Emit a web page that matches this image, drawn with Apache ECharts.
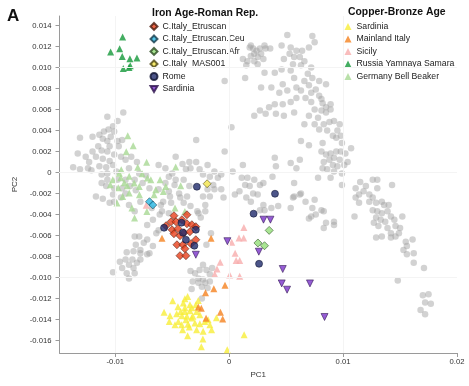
<!DOCTYPE html>
<html><head><meta charset="utf-8">
<script src="https://cdn.jsdelivr.net/npm/echarts@6/dist/echarts.min.js"></script>
<style>html,body{margin:0;padding:0;background:#fff}#c{width:469px;height:386px}</style>
</head><body><div id="c"></div>
<script>
// ---- axis ticks ----
const xTicks = [-0.01, 0, 0.01, 0.02];
const yTicks = [-0.016,-0.014,-0.012,-0.010,-0.008,-0.006,-0.004,-0.002,0,0.002,0.004,0.006,0.008,0.010,0.012,0.014];
const xGrid = [-0.01,-0.005,0,0.005,0.01,0.015];
const yGrid = yTicks;

// ---- background (gray) samples ----
const grayWest = [[-0.0107,0.0053],[-0.0093,0.0057],[-0.0098,0.0049],[-0.0102,0.0044],[-0.0106,0.0041],[-0.0101,0.0039],[-0.0110,0.0039],[-0.0114,0.0036],[-0.0104,0.0034],[-0.0120,0.0034],[-0.0111,0.0032],[-0.0131,0.0033],[-0.0107,0.0030],[-0.0098,0.0030],[-0.0094,0.0031],[-0.0115,0.0025],[-0.0105,0.0025],[-0.0097,0.0025],[-0.0112,0.0021],[-0.0120,0.0020],[-0.0107,0.0020],[-0.0101,0.0017],[-0.0133,0.0018],[-0.0126,0.0015],[-0.0117,0.0015],[-0.0111,0.0013],[-0.0105,0.0011],[-0.0095,0.0015],[-0.0091,0.0012],[-0.0123,0.0010],[-0.0137,0.0005],[-0.0131,0.0003],[-0.0124,0.0004],[-0.0114,0.0006],[-0.0108,0.0005],[-0.0102,0.0007],[-0.0121,0.0002],[-0.0112,-0.0002],[-0.0107,-0.0001],[-0.0099,0.0001],[-0.0088,0.0004],[-0.0081,0.0010],[-0.0086,0.0015],[-0.0083,-0.0007],[-0.0079,-0.0001],[-0.0073,-0.0003],[-0.0091,-0.0007],[-0.0098,-0.0007],[-0.0107,-0.0007],[-0.0112,-0.0010],[-0.0108,-0.0013],[-0.0101,-0.0015],[-0.0094,-0.0015],[-0.0087,-0.0013],[-0.0076,-0.0010],[-0.0070,-0.0015],[-0.0082,-0.0017],[-0.0091,-0.0020],[-0.0102,-0.0021],[-0.0117,-0.0023],[-0.0111,-0.0025],[-0.0095,-0.0024],[-0.0062,0.0007],[-0.0056,0.0004],[-0.0050,-0.0001],[-0.0047,-0.0007],[-0.0053,-0.0004],[-0.0056,-0.0010],[-0.0048,-0.0012],[-0.0040,-0.0007],[-0.0035,0.0010],[-0.0034,0.0004],[-0.0041,0.0008],[-0.0047,0.0015],[-0.0029,0.0031],[-0.0062,-0.0016],[-0.0053,-0.0018],[-0.0044,-0.0020],[-0.0035,-0.0013],[-0.0038,0.0003]];
const grayBridge = [[-0.0105,-0.0029],[-0.0101,-0.0028],[-0.0088,-0.0031],[-0.0078,-0.0028],[-0.0083,-0.0037],[-0.0060,-0.0031],[-0.0059,-0.0037],[-0.0051,-0.0029],[-0.0040,-0.0029],[-0.0034,-0.0032],[-0.0028,-0.0037],[-0.0025,-0.0043],[-0.0021,-0.0031],[-0.0067,-0.0045],[-0.0068,-0.0034],[-0.0053,-0.0039],[-0.0061,-0.0040],[-0.0058,-0.0028],[-0.0052,-0.0023],[-0.0043,-0.0024],[-0.0037,-0.0023],[-0.0072,-0.0050]];
const graySouthWest = [[-0.0090,-0.0076],[-0.0084,-0.0075],[-0.0078,-0.0077],[-0.0072,-0.0078],[-0.0091,-0.0083],[-0.0085,-0.0083],[-0.0081,-0.0086],[-0.0088,-0.0088],[-0.0084,-0.0091],[-0.0088,-0.0101],[-0.0090,-0.0096],[-0.0083,-0.0096],[-0.0102,-0.0095],[-0.0094,-0.0091],[-0.0078,-0.0083],[-0.0096,-0.0085],[-0.0075,-0.0067],[-0.0082,-0.0069],[-0.0078,-0.0074],[-0.0070,-0.0077],[-0.0067,-0.0070],[-0.0079,-0.0061],[-0.0072,-0.0064],[-0.0064,-0.0058],[-0.0062,-0.0055],[-0.0083,-0.0061]];
const graySouth = [[-0.0034,-0.0094],[-0.0030,-0.0096],[-0.0026,-0.0093],[-0.0023,-0.0088],[-0.0020,-0.0093],[-0.0017,-0.0097],[-0.0027,-0.0101],[-0.0023,-0.0102],[-0.0032,-0.0104],[-0.0027,-0.0105],[-0.0021,-0.0105],[-0.0017,-0.0104],[-0.0024,-0.0109],[-0.0019,-0.0110],[-0.0024,-0.0120],[-0.0033,-0.0111],[-0.0015,-0.0091]];
const grayCentral = [[-0.0029,0.0010],[-0.0026,0.0003],[-0.0019,0.0007],[-0.0013,0.0001],[-0.0023,-0.0002],[-0.0017,-0.0004],[-0.0010,-0.0005],[-0.0007,-0.0002],[-0.0014,-0.0012],[-0.0019,-0.0016],[-0.0013,-0.0016],[-0.0007,-0.0016],[-0.0023,-0.0023],[-0.0017,-0.0023],[-0.0005,-0.0024],[-0.0027,-0.0039],[-0.0021,-0.0037],[-0.0016,-0.0058],[-0.0020,-0.0069],[-0.0004,0.0020],[0.0012,0.0007],[0.0003,0.0001],[0.0011,-0.0005],[0.0016,-0.0005],[0.0022,-0.0007],[0.0014,-0.0012],[0.0018,-0.0013],[0.0027,-0.0012],[0.0009,-0.0018],[0.0021,-0.0020],[0.0025,-0.0021],[0.0005,-0.0021],[0.0015,-0.0024],[0.0030,-0.0031],[0.0027,-0.0036],[0.0031,-0.0036],[0.0019,-0.0028],[0.0040,0.0014],[0.0041,0.0006],[0.0038,-0.0004],[0.0030,-0.0010],[0.0054,0.0009],[0.0062,0.0012],[0.0059,0.0004],[0.0057,-0.0010],[0.0043,-0.0032],[0.0037,-0.0034],[0.0054,-0.0034],[0.0057,-0.0023],[0.0063,-0.0020],[0.0067,-0.0028],[0.0075,-0.0026],[0.0073,-0.0034],[0.0076,-0.0040],[0.0072,-0.0042],[0.0070,-0.0044],[0.0070,0.0026],[0.0063,0.0030],[0.0078,-0.0005],[0.0056,-0.0024],[0.0062,-0.0021]];
const grayNorth = [[0.0018,0.0119],[0.0021,0.0118],[0.0024,0.0116],[0.0027,0.0118],[0.0022,0.0113],[0.0019,0.0111],[0.0025,0.0110],[0.0028,0.0113],[0.0030,0.0108],[0.0022,0.0106],[0.0016,0.0106],[0.0012,0.0108],[0.0015,0.0102],[0.0025,0.0103],[0.0032,0.0118],[0.0036,0.0118],[0.0031,0.0121],[0.0019,0.0121],[0.0051,0.0131],[0.0073,0.0130],[0.0075,0.0124],[0.0046,0.0121],[0.0054,0.0119],[0.0059,0.0116],[0.0064,0.0116],[0.0070,0.0119],[0.0053,0.0113],[0.0048,0.0108],[0.0057,0.0110],[0.0062,0.0110],[0.0066,0.0106],[0.0056,0.0103],[0.0063,0.0102],[0.0072,0.0100],[0.0046,0.0098],[0.0040,0.0095],[0.0031,0.0095],[0.0014,0.0090],[-0.0004,0.0087],[0.0054,0.0097],[0.0069,0.0094],[0.0073,0.0090],[0.0079,0.0087],[0.0085,0.0084],[0.0066,0.0087],[0.0057,0.0090],[0.0047,0.0084],[0.0028,0.0081],[0.0037,0.0081],[0.0044,0.0076],[0.0051,0.0078],[0.0059,0.0081],[0.0063,0.0078],[0.0070,0.0083],[0.0076,0.0079],[0.0079,0.0073],[0.0067,0.0071],[0.0059,0.0071],[0.0054,0.0067],[0.0047,0.0065],[0.0040,0.0065],[0.0035,0.0062],[0.0027,0.0059],[0.0032,0.0056],[0.0022,0.0054],[0.0041,0.0056],[0.0048,0.0054],[0.0057,0.0057],[0.0072,0.0067],[0.0075,0.0060],[0.0081,0.0059],[0.0085,0.0062],[0.0089,0.0065],[0.0078,0.0052],[0.0070,0.0054],[0.0066,0.0046],[0.0075,0.0046],[0.0083,0.0046],[0.0088,0.0048],[0.0092,0.0049],[0.0097,0.0046],[0.0095,0.0040],[0.0086,0.0040],[0.0079,0.0041],[0.0091,0.0035],[0.0098,0.0035],[0.0002,0.0043],[0.0072,0.0076],[0.0081,0.0070]];
const grayEast = [[0.0082,0.0066],[0.0085,0.0057],[0.0089,0.0060],[0.0094,0.0033],[0.0099,0.0028],[0.0082,0.0028],[0.0107,0.0023],[0.0081,0.0020],[0.0085,0.0017],[0.0089,0.0018],[0.0094,0.0020],[0.0098,0.0020],[0.0102,0.0018],[0.0088,0.0012],[0.0092,0.0014],[0.0097,0.0012],[0.0083,0.0010],[0.0091,0.0007],[0.0095,0.0006],[0.0101,0.0007],[0.0104,0.0010],[0.0082,0.0004],[0.0086,0.0003],[0.0092,0.0001],[0.0099,-0.0001],[0.0089,-0.0005],[0.0099,-0.0012],[0.0115,-0.0009],[0.0111,-0.0015],[0.0120,-0.0013],[0.0126,-0.0007],[0.0130,-0.0007],[0.0130,-0.0015],[0.0143,-0.0012],[0.0114,-0.0021],[0.0118,-0.0018],[0.0123,-0.0021],[0.0126,-0.0024],[0.0111,-0.0024],[0.0134,-0.0028],[0.0129,-0.0029],[0.0140,-0.0031]];
const grayArc = [[0.0114,-0.0029],[0.0123,-0.0028],[0.0136,-0.0031],[0.0126,-0.0036],[0.0130,-0.0037],[0.0134,-0.0039],[0.0139,-0.0037],[0.0142,-0.0042],[0.0129,-0.0043],[0.0133,-0.0045],[0.0137,-0.0047],[0.0145,-0.0045],[0.0152,-0.0042],[0.0127,-0.0048],[0.0131,-0.0051],[0.0139,-0.0053],[0.0146,-0.0051],[0.0150,-0.0053],[0.0142,-0.0058],[0.0146,-0.0061],[0.0129,-0.0062],[0.0134,-0.0061],[0.0142,-0.0062],[0.0149,-0.0058],[0.0155,-0.0066],[0.0161,-0.0064],[0.0156,-0.0070],[0.0153,-0.0074],[0.0162,-0.0077],[0.0156,-0.0078],[0.0162,-0.0086],[0.0171,-0.0091],[0.0110,-0.0042],[0.0092,-0.0047],[0.0092,-0.0050],[0.0085,-0.0048],[0.0083,-0.0053],[0.0083,-0.0037],[0.0081,-0.0036],[0.0148,-0.0103],[0.0170,-0.0117],[0.0175,-0.0116],[0.0172,-0.0124],[0.0177,-0.0125],[0.0168,-0.0131],[0.0172,-0.0135]];

// ---- Iron Age - Roman Republic ----
const etruscan = [[-0.00485,-0.00412],[-0.00371,-0.00403],[-0.00555,-0.00508],[-0.00511,-0.00470],[-0.00467,-0.00470],[-0.00415,-0.00450],[-0.00371,-0.00489],[-0.00328,-0.00498],[-0.00293,-0.00517],[-0.00502,-0.00546],[-0.00450,-0.00536],[-0.00397,-0.00574],[-0.00485,-0.00584],[-0.00432,-0.00603],[-0.00345,-0.00565],[-0.00459,-0.00689],[-0.00406,-0.00689],[-0.00389,-0.00727],[-0.00336,-0.00679],[-0.00293,-0.00641],[-0.00432,-0.00793],[-0.00380,-0.00793]];
const etruscanCeu = [[-0.00700,-0.00279],[-0.00671,-0.00310]];
const etruscanAfr = [[0.00351,-0.00552],[0.00252,-0.00672],[0.00310,-0.00698]];
const mas001 = [[-0.00194,-0.00108]];
const rome = [[-0.00284,-0.00136],[-0.00572,-0.00527],[-0.00419,-0.00479],[-0.00293,-0.00546],[-0.00406,-0.00574],[-0.00380,-0.00641],[-0.00306,-0.00698],[0.00214,-0.00393],[0.00402,-0.00203],[0.00262,-0.00870]];
const sardiniaIA = [[0.00301,-0.00450],[0.00362,-0.00450],[-0.00016,-0.00655],[0.00260,-0.00755],[-0.00293,-0.00784],[0.00470,-0.00920],[0.00461,-0.01057],[0.00508,-0.01117],[0.00709,-0.01057],[0.00837,-0.01377]];

// ---- Copper-Bronze Age ----
const sardiniaCB = [[-0.00496,-0.01222],[-0.00572,-0.01333],[-0.00526,-0.01419],[-0.00365,-0.01181],[-0.00389,-0.01203],[-0.00403,-0.01244],[-0.00345,-0.01260],[-0.00272,-0.01219],[-0.00450,-0.01279],[-0.00426,-0.01324],[-0.00389,-0.01324],[-0.00345,-0.01317],[-0.00286,-0.01324],[-0.00461,-0.01346],[-0.00415,-0.01365],[-0.00371,-0.01370],[-0.00319,-0.01371],[-0.00258,-0.01355],[-0.00447,-0.01419],[-0.00380,-0.01403],[-0.00330,-0.01387],[-0.00301,-0.01434],[-0.00258,-0.01441],[-0.00214,-0.01419],[-0.00185,-0.01403],[-0.00112,-0.01384],[-0.00476,-0.01450],[-0.00417,-0.01450],[-0.00362,-0.01446],[-0.00409,-0.01498],[-0.00351,-0.01472],[-0.00286,-0.01498],[-0.00229,-0.01514],[-0.00155,-0.01498],[-0.00365,-0.01555],[-0.00231,-0.01587],[-0.00245,-0.01660],[-0.00017,-0.01689],[0.00131,-0.01546],[-0.00389,-0.01289],[-0.00328,-0.01289],[-0.00520,-0.01365],[-0.00293,-0.01260],[-0.00170,-0.01450]];
const mainlandItaly = [[-0.00590,-0.00627],[-0.00159,-0.00627],[-0.00208,-0.01146],[-0.00135,-0.01108],[-0.00037,-0.01074],[-0.00271,-0.01282],[-0.00245,-0.01293],[-0.00077,-0.01333],[-0.00057,-0.01396],[-0.00203,-0.01390]];
const sicily = [[-0.00729,-0.00312],[0.00129,-0.00524],[0.00086,-0.00625],[0.00127,-0.00625],[0.00022,-0.00665],[0.00052,-0.00771],[-0.00079,-0.00855],[0.00061,-0.00838],[0.00092,-0.00838],[-0.00107,-0.00920],[-0.00127,-0.00970],[0.00004,-0.00977],[0.00092,-0.00990]];
const yamnaya = [[-0.00936,0.01290],[-0.01041,0.01147],[-0.00962,0.01178],[-0.00939,0.01105],[-0.00872,0.01083],[-0.00810,0.01090],[-0.00930,0.00990],[-0.00880,0.01000],[-0.00869,0.01016]];
const bellBeaker = [[-0.00891,0.00350],[-0.00843,0.00254],[-0.00904,0.00197],[-0.00725,0.00097],[-0.00803,0.00050],[-0.00470,0.00051],[-0.00965,-0.00008],[-0.01022,-0.00070],[-0.00952,-0.00050],[-0.00878,-0.00036],[-0.00921,-0.00098],[-0.00718,-0.00053],[-0.00688,-0.00070],[-0.00834,-0.00101],[-0.00790,-0.00133],[-0.00645,-0.00165],[-0.00557,-0.00133],[-0.00426,-0.00127],[-0.00936,-0.00229],[-0.00878,-0.00196],[-0.00985,-0.00291],[-0.00854,-0.00339],[-0.00723,-0.00371],[-0.00831,-0.00434],[-0.00476,-0.00339],[-0.00389,-0.00371],[-0.00788,-0.00212],[-0.00659,-0.00212],[-0.00578,-0.00181],[-0.00974,-0.00146],[-0.00895,-0.00127],[-0.00764,-0.00012],[-0.00607,-0.00070],[-0.01044,-0.00117],[-0.00948,0.00026]];

const gray = [].concat(grayWest, grayBridge, graySouthWest, graySouth, grayCentral, grayNorth, grayEast, grayArc);

const FONT = 'Liberation Sans, Arial, Helvetica, sans-serif';
const invTri = 'path://M0,0L10,0L5,8.66Z';

function sc(name, data, symbol, size, color, border, z) {
  return {
    type: 'scatter', name, data, symbol, symbolSize: size, z,
    itemStyle: border ? {color, borderColor: border, borderWidth: 0.7} : {color},
    emphasis: {disabled: true}
  };
}

const legendText = {fontSize: 8.7, color: '#222', fontFamily: FONT, lineHeight: 12.5};

const chart = echarts.init(document.getElementById('c'), null, {renderer: 'canvas'});
chart.setOption({
  animation: false,
  backgroundColor: '#fff',
  grid: {left: 59.5, right: 12, top: 16, bottom: 33},
  xAxis: {
    type: 'value', min: -0.0149, max: 0.02,
    name: 'PC1', nameLocation: 'middle', nameGap: 16,
    nameTextStyle: {fontSize: 8, color: '#333', fontFamily: FONT},
    axisLine: {show: true, onZero: false, lineStyle: {color: '#9a9a9a', width: 1}},
    axisTick: {show: true, length: 4, customValues: xTicks, lineStyle: {color: '#9a9a9a'}},
    axisLabel: {customValues: xTicks, fontSize: 7.7, color: '#333', fontFamily: FONT, margin: 5,
      formatter: v => (Math.abs(v) < 1e-12 ? '0' : v.toFixed(2))},
    splitLine: {show: false}
  },
  yAxis: {
    type: 'value', min: -0.0172, max: 0.0149,
    name: 'PC2', nameLocation: 'middle', nameGap: 38, nameRotate: 90,
    nameTextStyle: {fontSize: 8, color: '#333', fontFamily: FONT},
    axisLine: {show: true, onZero: false, lineStyle: {color: '#9a9a9a', width: 1}},
    axisTick: {show: true, length: 4, customValues: yTicks, lineStyle: {color: '#9a9a9a'}},
    axisLabel: {customValues: yTicks, fontSize: 7.7, color: '#333', fontFamily: FONT, margin: 8,
      formatter: v => (Math.abs(v) < 1e-12 ? '0' : v.toFixed(3))},
    splitLine: {show: false}
  },
  legend: [
    {
      left: 149.5, top: 20.2, padding: 0, orient: 'vertical', itemWidth: 7, itemHeight: 7, itemGap: 0,
      selectedMode: false, textStyle: legendText,
      formatter: n => n.trim(),
      data: ['C.Italy_Etruscan', 'C.Italy_Etruscan.Ceu', 'C.Italy_Etruscan.Afr', 'C.Italy_MAS001', 'Rome', 'Sardinia']
    },
    {
      left: 344.5, top: 20.2, padding: 0, orient: 'vertical', itemWidth: 7, itemHeight: 7, itemGap: 0,
      selectedMode: false, textStyle: legendText,
      formatter: n => n.trim(),
      data: ['Sardinia\u00a0', 'Mainland Italy', 'Sicily', 'Russia Yamnaya Samara', 'Germany Bell Beaker']
    }
  ],
  graphic: [
    {type: 'text', left: 7, top: 7.5, style: {text: 'A', font: 'bold 17px ' + FONT, fill: '#111'}},
    {type: 'text', left: 152, top: 8.5, style: {text: 'Iron Age-Roman Rep.', font: 'bold 10.4px ' + FONT, fill: '#111'}},
    {type: 'text', left: 348, top: 7, style: {text: 'Copper-Bronze Age', font: 'bold 10.4px ' + FONT, fill: '#111'}}
  ],
  series: [
    {
      type: 'scatter', name: 'grid', data: [], z: 0, silent: true,
      markLine: {
        silent: true, symbol: ['none', 'none'], label: {show: false},
        lineStyle: {color: '#f4f4f4', width: 1, type: 'solid'},
        emphasis: {disabled: true},
        data: yGrid.map(v => ({yAxis: v})).concat(xGrid.map(v => ({xAxis: v})))
      }
    },
    Object.assign(sc('background', gray, 'circle', 6.5, 'rgba(160,160,160,0.6)', null, 1), {silent: true}),
    sc('Germany Bell Beaker', bellBeaker, 'triangle', 7, '#a8d894', null, 2),
    sc('Russia Yamnaya Samara', yamnaya, 'triangle', 7, '#14993a', null, 2),
    sc('Sardinia\u00a0', sardiniaCB, 'triangle', 7, '#f7ee38', null, 2),
    sc('Sicily', sicily, 'triangle', 7, '#f8adad', null, 2),
    sc('Mainland Italy', mainlandItaly, 'triangle', 7, '#f5821f', null, 3),
    sc('C.Italy_Etruscan', etruscan, 'diamond', 8, '#e8401c', '#4a1a0c', 4),
    sc('C.Italy_Etruscan.Ceu', etruscanCeu, 'diamond', 8, '#2bb8e4', '#143a4a', 4),
    sc('C.Italy_Etruscan.Afr', etruscanAfr, 'diamond', 8, '#93df78', '#2a4a20', 4),
    sc('C.Italy_MAS001', mas001, 'diamond', 8, '#f2e54a', '#4a4410', 4),
    sc('Rome', rome, 'circle', 7, '#1f2b6b', '#0c1230', 5),
    sc('Sardinia', sardiniaIA, invTri, 7, '#7b33c9', '#2a104a', 5)
  ]
});
</script></body></html>
